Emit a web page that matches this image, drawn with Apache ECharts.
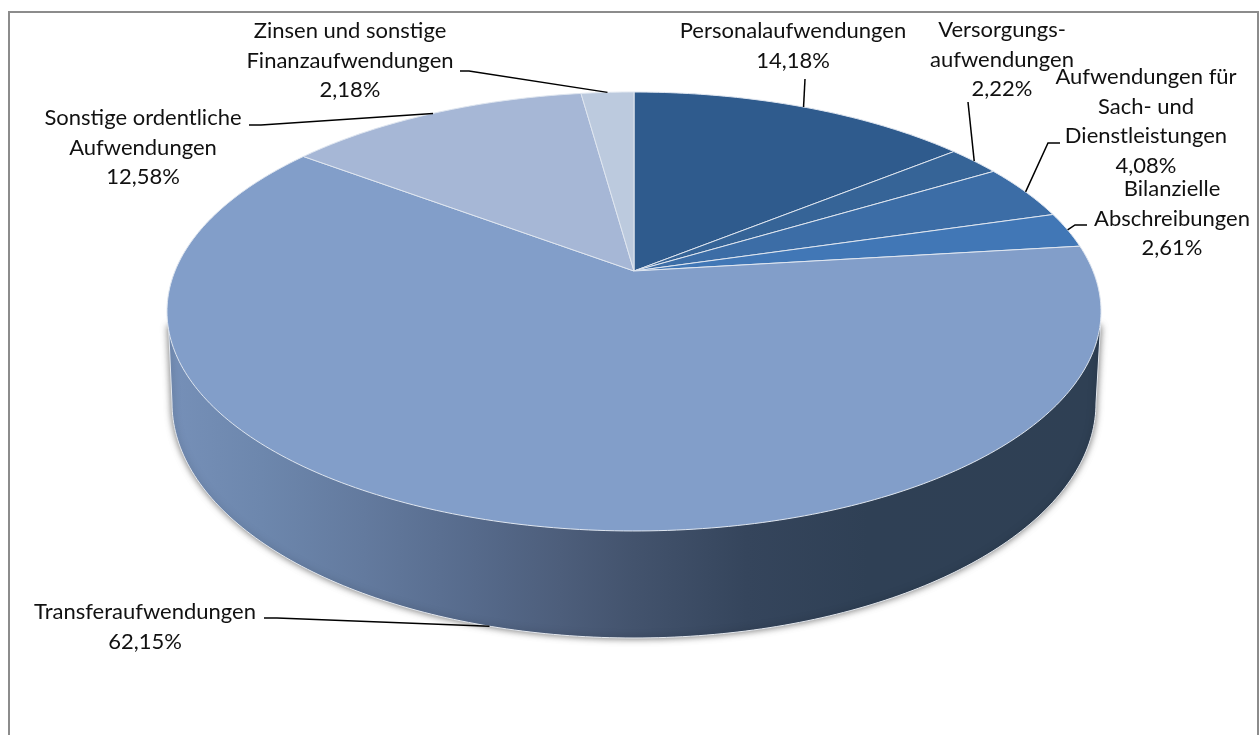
<!DOCTYPE html>
<html>
<head>
<meta charset="utf-8">
<style>
html,body{margin:0;padding:0;background:#fff;overflow:hidden}
#chart{width:1260px;height:735px}
</style>
<script src="https://cdn.jsdelivr.net/npm/echarts@6/dist/echarts.min.js"></script>
</head>
<body>
<div id="chart"></div>
<script>
// Aufwendungen nach Arten, Anteile in Prozent
const categories = [
  'Personalaufwendungen',
  'Versorgungs-\naufwendungen',
  'Aufwendungen für\nSach- und\nDienstleistungen',
  'Bilanzielle\nAbschreibungen',
  'Transferaufwendungen',
  'Sonstige ordentliche\nAufwendungen',
  'Zinsen und sonstige\nFinanzaufwendungen'
];
const shares = [14.18, 2.22, 4.08, 2.61, 62.15, 12.58, 2.18];
const sliceColors = ['#2f5b8d', '#366497', '#3c6da6', '#4177b6', '#829ec9', '#a6b7d6', '#bccade'];

// Scheibe: perspektivische Abbildung des Einheitskreises auf die Deckfläche
const disc = { cx: 634, cy: 271, a: 459, b: 212, k: 0.1845, depth: 106 };
const base = { cx: 634, cy: 403, rx: 462, ry: 235 };

// Beschriftungen: Textmitte, erste Zeile, Knickpunkte der Führungslinie
const labelLayout = [
  { x: 793, y: 31, leader: [[805, 79]] },
  { x: 1002, y: 30, leader: [[968, 102]] },
  { x: 1146, y: 77, leader: [[1060, 143], [1048, 143]] },
  { x: 1172, y: 189, leader: [[1087, 225], [1075, 225]] },
  { x: 145, y: 612, leader: [[264, 618], [277, 618]], onWall: true },
  { x: 143, y: 118, leader: [[249, 125], [261, 125]] },
  { x: 350, y: 31, leader: [[460, 71], [469, 71]] }
];

const total = shares.reduce((s, v) => s + v, 0);

function rimPoint(share) {
  const t = share / total * Math.PI * 2;
  const x = Math.sin(t), y = -Math.cos(t);
  const w = 1 - disc.k * y;
  return [disc.cx + disc.a * x / w, disc.cy + disc.b * y / w];
}

function startShare(index) {
  let s = 0;
  for (let i = 0; i < index; i++) s += shares[i];
  return s;
}

function renderSlice(params, api) {
  const i = params.dataIndex;
  const from = startShare(i), value = api.value(0);
  const points = [[disc.cx, disc.cy]];
  const steps = Math.max(8, Math.ceil(value * 4));
  for (let n = 0; n <= steps; n++) points.push(rimPoint(from + value * n / steps));
  return {
    type: 'polygon',
    shape: { points },
    style: { fill: sliceColors[i], stroke: '#dfe6f0', lineWidth: 1, lineJoin: 'round' }
  };
}

// Mantelfläche unter der Deckfläche
function renderWall() {
  const points = [[168.5, 326]];
  for (let d = 180; d >= 0; d -= 1) {
    const r = d * Math.PI / 180;
    points.push([base.cx + base.rx * Math.cos(r), base.cy + base.ry * Math.sin(r)]);
  }
  points.push([1100.5, 326]);
  return {
    type: 'polygon',
    shape: { points },
    style: {
      fill: new echarts.graphic.LinearGradient(0, 0, 1, 0, [
        { offset: 0, color: '#7690b8' },
        { offset: 0.1, color: '#6d87ad' },
        { offset: 0.21, color: '#637a9e' },
        { offset: 0.33, color: '#566a8b' },
        { offset: 0.42, color: '#4d5e7b' },
        { offset: 0.5, color: '#43536d' },
        { offset: 0.62, color: '#35455c' },
        { offset: 0.75, color: '#2f4055' },
        { offset: 1, color: '#2f4054' }
      ]),
      stroke: '#e4e8ee',
      lineWidth: 1,
      shadowBlur: 7,
      shadowColor: 'rgba(0,0,0,0.55)'
    }
  };
}

function renderLabel(params, api) {
  const i = params.dataIndex;
  const value = api.value(0);
  const layout = labelLayout[i];
  const anchor = rimPoint(startShare(i) + value / 2);
  if (layout.onWall) anchor[1] += disc.depth;
  const text = categories[i] + '\n' + value.toFixed(2).replace('.', ',') + '%';
  return {
    type: 'group',
    children: [
      {
        type: 'polyline',
        shape: { points: layout.leader.concat([anchor]) },
        style: { fill: null, stroke: '#000', lineWidth: 1.5 }
      },
      {
        type: 'text',
        style: {
          x: layout.x,
          y: layout.y - 14.75,
          text,
          fill: '#111',
          font: '22px Lato',
          lineHeight: 29.5,
          align: 'center',
          verticalAlign: 'top'
        }
      }
    ]
  };
}

const rows = shares.map(v => [v]);
const chart = echarts.init(document.getElementById('chart'), null, { renderer: 'canvas' });
chart.setOption({
  animation: false,
  backgroundColor: '#fff',
  graphic: [{
    type: 'polyline',
    shape: { points: [[9, 735], [9, 12], [1258, 12], [1258, 735]] },
    style: { fill: null, stroke: '#8c8c8c', lineWidth: 2 },
    silent: true
  }],
  series: [
    { type: 'custom', coordinateSystem: 'none', silent: true, renderItem: renderWall, data: [[total]], z: 1 },
    { type: 'custom', coordinateSystem: 'none', silent: true, renderItem: renderSlice, data: rows, z: 2 },
    { type: 'custom', coordinateSystem: 'none', silent: true, renderItem: renderLabel, data: rows, z: 3 }
  ]
});
</script>
</body>
</html>
